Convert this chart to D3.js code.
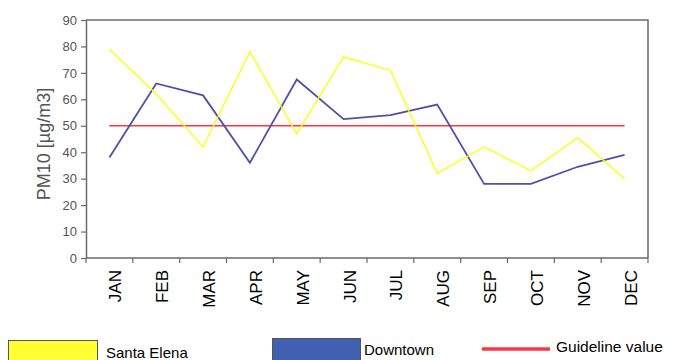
<!DOCTYPE html>
<html>
<head>
<meta charset="utf-8">
<script src="https://cdn.jsdelivr.net/npm/d3@7"></script>
<style>
  html, body { margin: 0; padding: 0; background: #fff; }
  svg { display: block; font-family: "Liberation Sans", Arial, sans-serif; }
</style>
</head>
<body>
<svg id="chart" width="684" height="360"></svg>
<script>
// Monthly PM10 concentrations at two monitoring sites
const months = ["JAN", "FEB", "MAR", "APR", "MAY", "JUN", "JUL", "AUG", "SEP", "OCT", "NOV", "DEC"];
const santaElena = [79, 62, 42, 78, 47, 76, 71, 32, 42, 33, 45.5, 30];
const downtown = [38, 66, 61.5, 36, 67.5, 52.5, 54, 58, 28, 28, 34.5, 39];
const guidelineValue = 50;
const yTickValues = [0, 10, 20, 30, 40, 50, 60, 70, 80, 90];
const legendLabels = ["Santa Elena", "Downtown", "Guideline value"];

const svg = d3.select("#chart");
const plotLeft = 86, plotRight = 648, plotTop = 20, plotBottom = 258;
const axisColor = "#6a6a6a";

const x = d3.scaleBand().domain(months).range([plotLeft, plotRight]);
const y = d3.scaleLinear().domain([0, 90]).range([plotBottom, plotTop]);
const cx = m => x(m) + x.bandwidth() / 2;

// Plot frame: top and right edges
svg.append("path")
  .attr("d", `M${plotLeft},${plotTop}H${plotRight}V${plotBottom}`)
  .attr("fill", "none").attr("stroke", axisColor).attr("stroke-width", 1.5);

// Y axis
const yAxis = svg.append("g")
  .attr("transform", `translate(${plotLeft},0)`)
  .call(d3.axisLeft(y).tickValues(yTickValues).tickSize(5).tickSizeOuter(0).tickPadding(4));
yAxis.select(".domain").attr("stroke", axisColor).attr("stroke-width", 1.5);
yAxis.selectAll(".tick line").attr("stroke", axisColor).attr("stroke-width", 1.2);
yAxis.selectAll(".tick text")
  .attr("fill", "#555").attr("font-size", 13)
  .attr("font-family", "Liberation Sans, Arial, sans-serif");

// X axis line with ticks on category boundaries
svg.append("line")
  .attr("x1", plotLeft).attr("x2", plotRight).attr("y1", plotBottom).attr("y2", plotBottom)
  .attr("stroke", axisColor).attr("stroke-width", 1.5);
const boundaries = months.map(m => x(m)).concat([plotRight]);
svg.append("g").selectAll("line").data(boundaries).join("line")
  .attr("x1", d => d).attr("x2", d => d)
  .attr("y1", plotBottom).attr("y2", plotBottom + 5)
  .attr("stroke", axisColor).attr("stroke-width", 1.2);

// Rotated month labels
svg.append("g").selectAll("text").data(months).join("text")
  .attr("transform", d => `translate(${cx(d) + 6},270) rotate(-90)`)
  .attr("dy", "0.35em")
  .attr("text-anchor", "end")
  .attr("font-size", 17)
  .attr("fill", "#000")
  .text(d => d);

// Y axis title
svg.append("text")
  .attr("transform", "translate(44,144) rotate(-90)")
  .attr("dy", "0.35em")
  .attr("text-anchor", "middle")
  .attr("font-size", 18)
  .attr("fill", "#555")
  .text("PM10 [µg/m3]");

// Guideline
svg.append("line")
  .attr("x1", cx(months[0])).attr("x2", cx(months[months.length - 1]))
  .attr("y1", y(guidelineValue)).attr("y2", y(guidelineValue))
  .attr("stroke", "#ff3344").attr("stroke-width", 1.6);

// Series lines
const line = d3.line().x((d, i) => cx(months[i])).y(d => y(d));
svg.append("path").datum(downtown)
  .attr("d", line).attr("fill", "none")
  .attr("stroke", "#5050aa").attr("stroke-width", 1.8);
svg.append("path").datum(santaElena)
  .attr("d", line).attr("fill", "none")
  .attr("stroke", "#ffff00").attr("stroke-width", 1.3);

// Legend
const legend = svg.append("g");
legend.append("rect").attr("x", 8.5).attr("y", 340.5).attr("width", 89).attr("height", 24)
  .attr("fill", "#ffff33").attr("stroke", "#555").attr("stroke-width", 1);
legend.append("text").attr("x", 106).attr("y", 358).attr("font-size", 15).text(legendLabels[0]);
legend.append("rect").attr("x", 272.5).attr("y", 338.5).attr("width", 88).attr("height", 26)
  .attr("fill", "#4060b0").attr("stroke", "#555").attr("stroke-width", 1);
legend.append("text").attr("x", 364).attr("y", 355).attr("font-size", 15).text(legendLabels[1]);
legend.append("line").attr("x1", 482).attr("x2", 550).attr("y1", 349).attr("y2", 349)
  .attr("stroke", "#ff3344").attr("stroke-width", 3.5);
legend.append("text").attr("x", 556).attr("y", 352).attr("font-size", 15.5).text(legendLabels[2]);
</script>
</body>
</html>
